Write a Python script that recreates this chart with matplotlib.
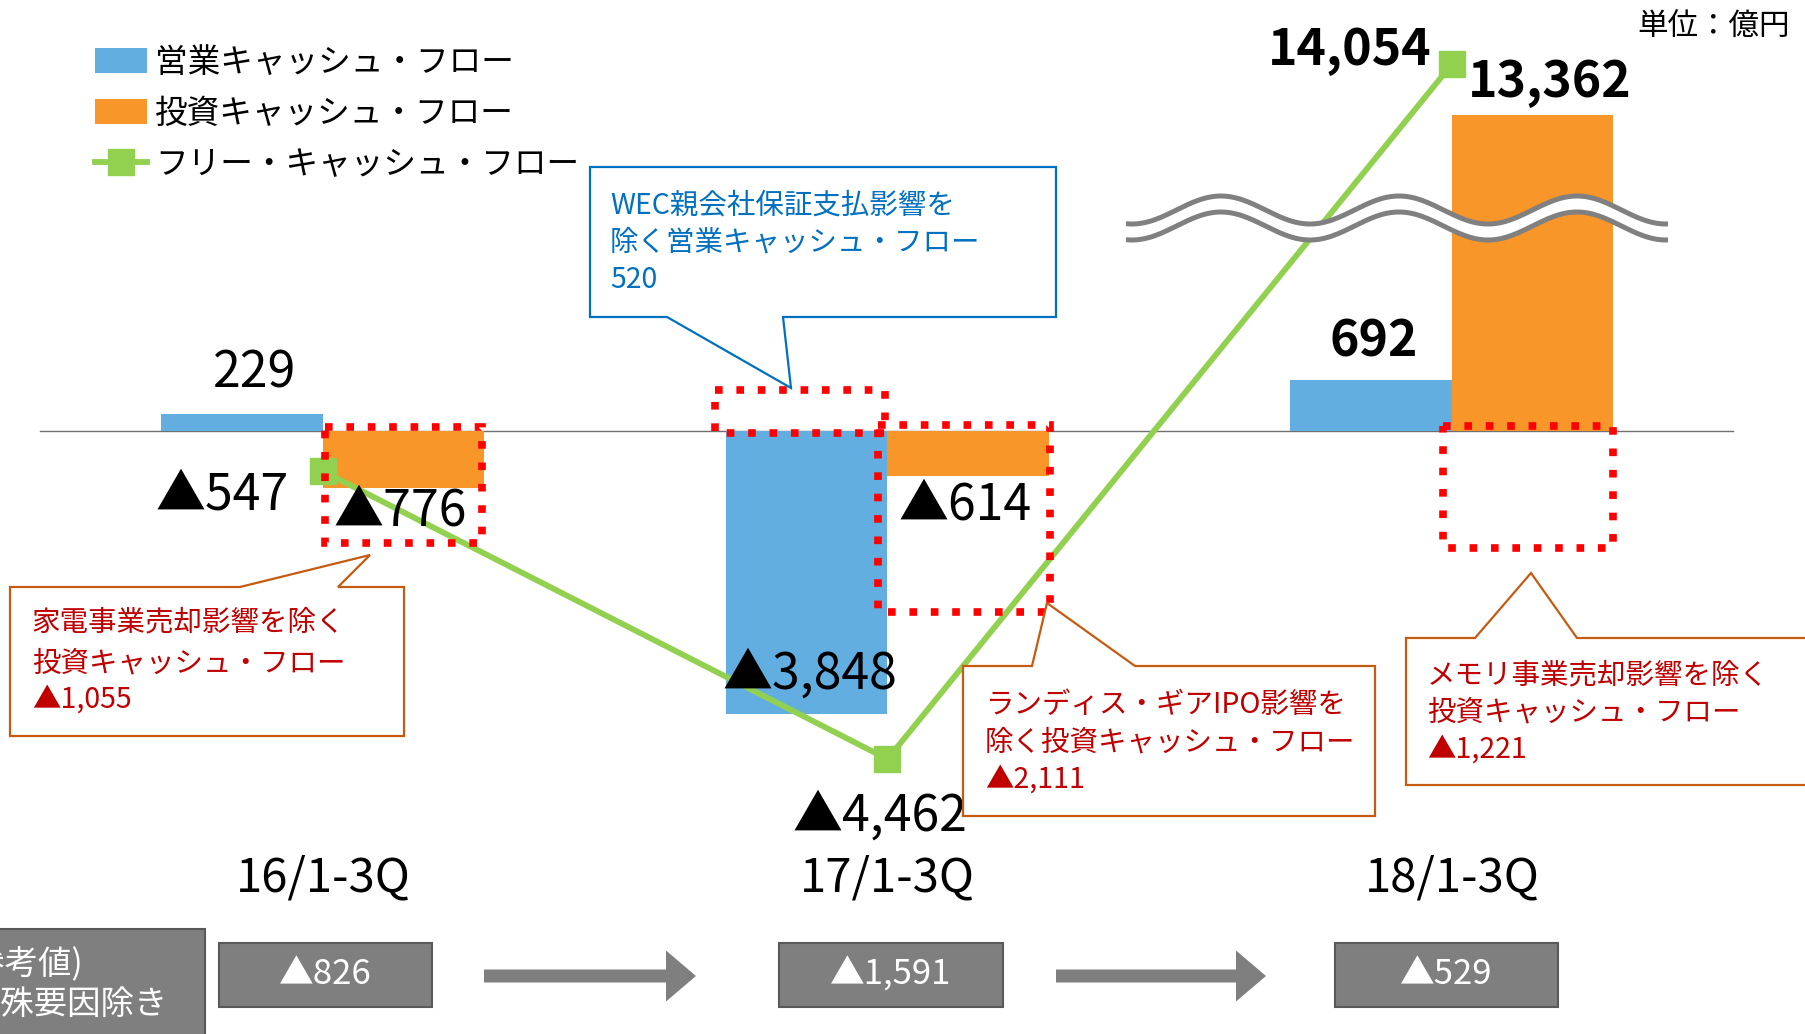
import numpy as np
import matplotlib
matplotlib.use('Agg')
import matplotlib.pyplot as plt
from matplotlib.patches import Rectangle, Polygon, FancyArrow
from matplotlib import transforms

plt.rcParams['font.family'] = ['Noto Sans CJK JP', 'DejaVu Sans']

# data (億円)
periods = ['16/1-3Q', '17/1-3Q', '18/1-3Q']
operating_cf = [229, -3848, 692]
investing_cf = [-776, -614, 13362]
free_cf = [-547, -4462, 14054]
adjusted_fcf = [-826, -1591, -529]
legend_labels = ['営業キャッシュ・フロー', '投資キャッシュ・フロー', 'フリー・キャッシュ・フロー']

BLUE = '#62AEE0'
ORANGE = '#F8962A'
GREEN = '#92D050'
GRAY = '#7F7F7F'
RED_TXT = '#C00000'
BLUE_TXT = '#0070C0'
CALLOUT_EDGE = '#C55A11'


def fmt(v):
    return f'{v:,}' if v >= 0 else f'▲{-v:,}'


W, H = 1806, 1034
fig = plt.figure(figsize=(W / 100, H / 100), dpi=100)

# main axes, broken y axis done with a piecewise scale
ax = fig.add_axes([0, 0, 1, 1])
PX = 13.6        # units per pixel
ZERO_Y = 431     # pixel row of zero line
B1, B2, OFF = 3000, 12100, 9063


def fwd(v):
    v = np.asarray(v, float)
    mid = B1 + (v - B1) * (B2 - OFF - B1) / (B2 - B1)
    return np.where(v <= B1, v, np.where(v >= B2, v - OFF, mid))


def inv(t):
    t = np.asarray(t, float)
    mid = B1 + (t - B1) * (B2 - B1) / (B2 - OFF - B1)
    return np.where(t <= B1, t, np.where(t >= B2 - OFF, t + OFF, mid))


ax.set_yscale('function', functions=(fwd, inv))
ax.set_ylim(float(inv(-(H - ZERO_Y) * PX)), float(inv(ZERO_Y * PX)))
GAP, X0 = 564.5, 323
ax.set_xlim(-X0 / GAP, (W - X0) / GAP)
ax.axis('off')

x = np.arange(len(periods))
w = 161.5 / GAP
b1 = ax.bar(x - w / 2, operating_cf, w, color=BLUE, label=legend_labels[0], zorder=2)
b2 = ax.bar(x + w / 2, investing_cf, w, color=ORANGE, label=legend_labels[1], zorder=2)
ln, = ax.plot(x, free_cf, color=GREEN, lw=4.2, marker='s', ms=19, label=legend_labels[2], zorder=3)
ax.axhline(0, xmin=40 / W, xmax=1733 / W, color='#707070', lw=1.0, zorder=1)

ax.legend(handles=[b1, b2, ln], loc='upper left', bbox_to_anchor=(95 / W, 1 - 47 / H), frameon=False,
          fontsize=23.5, handlelength=1.6, handleheight=0.78, handletextpad=0.25,
          labelspacing=0.58, borderpad=0, borderaxespad=0)

# overlay in pixel coordinates for annotations
ov = fig.add_axes([0, 0, 1, 1], facecolor='none')
ov.set_xlim(0, W)
ov.set_ylim(H, 0)
ov.axis('off')

# break mark
xs = np.linspace(1126, 1668, 300)
wave = 14 * np.cos(2 * np.pi * (xs - 1310) / 178)
ov.plot(xs, 218 + wave, color='white', lw=11, solid_capstyle='butt')
ov.plot(xs, 210 + wave, color='#808080', lw=3.6, solid_capstyle='butt')
ov.plot(xs, 226 + wave, color='#808080', lw=3.6, solid_capstyle='butt')

# data labels
op_pos = [(255, 373), (810, 675), (1374, 342)]
inv_pos = [(400, 511), (965, 506), (1550, 82)]
fcf_pos = [(222, 496), (880, 817), (1350, 51)]
for vals, pos in [(operating_cf, op_pos), (investing_cf, inv_pos), (free_cf, fcf_pos)]:
    for i, (v, (px, py)) in enumerate(zip(vals, pos)):
        ov.text(px, py, fmt(v), fontsize=36, ha='center', va='center',
                fontweight='bold' if i == 2 else 'normal', zorder=5)

ov.text(1790, 27, '単位：億円', fontsize=22, ha='right', va='center')

# category labels
tr = transforms.blended_transform_factory(ax.transData, ov.transData)
for i, p in enumerate(periods):
    ax.text(i, 878, p, transform=tr, fontsize=34, ha='center', va='center')

# dotted highlight boxes
dotted = [(325, 427, 482, 543), (715, 390, 885, 433), (878, 425, 1050, 612), (1443, 426, 1613, 548)]
for x1, y1, x2, y2 in dotted:
    ov.add_patch(Rectangle((x1, y1), x2 - x1, y2 - y1, fill=False, edgecolor='#FF0000',
                           lw=5.5, linestyle=(0, (1, 1.8)), zorder=6))

# callouts
callouts = [
    ([(590, 167), (1056, 167), (1056, 317), (783, 317), (791, 388), (667, 317), (590, 317)],
     BLUE_TXT, BLUE_TXT, 610, [205, 242, 280],
     ['WEC親会社保証支払影響を', '除く営業キャッシュ・フロー', '520']),
    ([(10, 587), (240, 587), (370, 555), (338, 587), (404, 587), (404, 736), (10, 736)],
     CALLOUT_EDGE, RED_TXT, 32, [622, 663, 700],
     ['家電事業売却影響を除く', '投資キャッシュ・フロー', '▲1,055']),
    ([(963, 666), (1032, 666), (1047, 603), (1135, 666), (1375, 666), (1375, 816), (963, 816)],
     CALLOUT_EDGE, RED_TXT, 985, [705, 742, 780],
     ['ランディス・ギアIPO影響を', '除く投資キャッシュ・フロー', '▲2,111']),
    ([(1406, 638), (1475, 638), (1531, 573), (1577, 638), (1830, 638), (1830, 785), (1406, 785)],
     CALLOUT_EDGE, RED_TXT, 1427, [675, 712, 750],
     ['メモリ事業売却影響を除く', '投資キャッシュ・フロー', '▲1,221']),
]
for verts, ec, tc, tx, tys, lines in callouts:
    ov.add_patch(Polygon(verts, closed=True, facecolor='white', edgecolor=ec, lw=1.6, zorder=7))
    for ty, line in zip(tys, lines):
        ov.text(tx, ty, line, color=tc, fontsize=20.5, ha='left', va='center', zorder=8)

# bottom row: reference values excluding special factors (cut at the left edge as in the slide)
ov.add_patch(Rectangle((-10, 929), 215, 120, facecolor=GRAY, edgecolor='#595959', lw=1.5, zorder=6))
ov.text(84, 965, '(参考値)', color='white', fontsize=24, ha='right', va='center', zorder=7)
ov.text(167, 1004, '特殊要因除き', color='white', fontsize=24, ha='right', va='center', zorder=7)

box_pos = [(219, 432), (779, 1003), (1335, 1558)]
for v, (bx1, bx2) in zip(adjusted_fcf, box_pos):
    ov.add_patch(Rectangle((bx1, 943), bx2 - bx1, 64, facecolor=GRAY, edgecolor='#595959', lw=1.5, zorder=6))
    ov.text((bx1 + bx2) / 2, 975, fmt(v), color='white', fontsize=25, ha='center', va='center', zorder=7)

for ax1, ax2 in [(484, 696), (1056, 1266)]:
    ov.add_patch(FancyArrow(ax1, 976, ax2 - ax1, 0, width=13, head_width=51, head_length=30,
                            length_includes_head=True, color=GRAY, lw=0, zorder=6))

fig.savefig('out.png', dpi=100)
